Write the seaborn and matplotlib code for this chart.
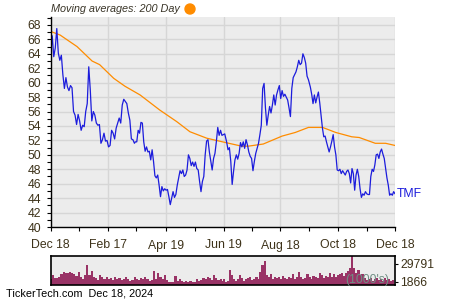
import numpy as np
import pandas as pd
import matplotlib
matplotlib.use("Agg")
import matplotlib.pyplot as plt
import matplotlib.dates as mdates
from matplotlib.ticker import MultipleLocator, FixedLocator
import seaborn as sns

# ---------------- data ----------------
price_seg1 = [63.9, 66.5, 63.6, 64.8, 67.5, 64.1, 63.1, 63.8, 61.1, 59.2, 60.7, 59.4, 58.9, 59.6, 59.3,
              56.0, 55.5, 54.2, 55.6, 54.7, 53.4, 54.1, 53.9, 56.0, 57.1, 62.2, 59.0, 54.7, 56.0, 55.5,
              54.4, 54.1, 54.2, 51.6, 52.1, 53.0, 51.9, 52.0, 51.1, 51.3, 53.4, 53.0, 52.2, 53.7, 54.4,
              55.1, 54.4, 56.9, 57.7, 57.4, 57.1, 55.8, 54.8, 52.2, 52.1, 51.6]
price_seg2 = [51.8, 51.8, 53.4, 53.0, 54.5, 54.4, 51.8, 50.5, 51.1, 50.4, 50.5, 49.3, 50.7, 49.1, 47.1,
              46.8, 47.2, 45.8, 44.2, 45.6, 45.0, 45.3, 45.1, 45.2, 44.2, 43.1, 44.0, 44.9, 44.1, 44.5,
              45.8, 46.8, 47.8, 47.4, 47.9, 47.0, 47.2, 47.9, 50.0, 49.5, 48.5, 49.0, 48.4, 49.0, 48.1,
              47.9, 46.3, 44.9, 46.3, 47.0, 50.0, 51.9, 52.1, 50.4, 49.1, 47.9, 49.5, 50.2, 51.8, 53.8,
              52.7, 53.4, 52.7, 52.8, 52.9]
price_seg3 = [51.8, 50.7, 51.0, 49.1, 45.9, 47.7, 49.3, 50.0, 49.4, 50.2, 51.7, 51.1, 51.8, 50.9, 52.1,
              51.4, 50.4, 49.8, 49.5, 47.8, 49.1, 50.2, 50.9, 51.6, 52.8, 54.1, 59.2, 59.9, 56.5, 54.1,
              55.5, 56.7, 55.8, 56.9, 58.3, 56.9, 58.3, 59.0, 59.6, 57.8, 58.9, 58.1, 58.4, 58.0, 57.6,
              56.5, 55.3, 59.2, 60.7, 61.1, 61.5, 62.2, 63.1, 62.5, 62.7, 64.0, 63.5, 62.7, 60.9, 60.4]
price_seg4 = [59.4, 58.4, 57.1, 58.3, 57.2, 58.0, 58.7, 57.2, 55.5, 53.7, 52.5, 52.6, 51.8, 51.1, 50.4,
              51.1, 51.9, 52.8, 51.1, 50.0, 47.9, 47.8, 48.0, 47.4, 47.8, 47.5, 47.2, 47.7, 47.9, 47.4,
              46.1, 48.1, 47.4, 45.1, 47.2, 48.0, 47.0, 45.3, 44.1, 44.6, 44.4, 44.9, 44.6, 44.5, 44.5,
              47.0, 48.0, 47.7, 48.6, 50.0, 50.1, 49.5, 50.4, 50.8, 50.1, 49.5, 48.1, 46.8, 45.8, 44.4,
              44.6, 44.4, 44.9, 44.6]
price_seg_spans = [("2023-12-18", "2024-03-16"), ("2024-03-17", "2024-06-20"),
                   ("2024-06-22", "2024-09-17"), ("2024-09-19", "2024-12-18")]

ma_dates = ["2023-12-18", "2023-12-28", "2024-01-15", "2024-01-31", "2024-02-08", "2024-02-23",
            "2024-03-06", "2024-03-22", "2024-04-12", "2024-04-30", "2024-05-14", "2024-06-01",
            "2024-06-21", "2024-07-08", "2024-07-15", "2024-07-31", "2024-08-20", "2024-09-03",
            "2024-09-17", "2024-10-02", "2024-10-16", "2024-11-02", "2024-11-10", "2024-11-27",
            "2024-12-08", "2024-12-18"]
ma_values = [67.1, 66.6, 65.0, 63.0, 62.5, 60.6, 59.5, 58.3, 56.2, 54.6, 53.2, 52.3,
             51.7, 51.2, 51.2, 51.5, 52.6, 53.1, 53.8, 53.8, 53.1, 52.5, 52.4, 51.6,
             51.6, 51.3]

vol_seg1 = [5600, 12440, 7180, 7180, 9810, 14020, 17700, 16120, 15070, 17700, 15070, 14020, 10860,
            17700, 9810, 5600, 12440, 28220, 12440, 19280, 8760, 7180, 4550, 12440, 9810, 5600, 8760,
            5600, 7180, 4550, 8760, 5600, 7180, 4550, 5600, 8760, 5600, 3500, 4550, 8760, 5600, 4550,
            7180, 5600, 9810, 5600, 3500, 4550, 19280, 5600, 15070, 9810, 5600, 12440, 4550, 1920,
            1920, 1920, 10860, 3500, 5600, 3500, 1920, 3500, 1870, 3500, 1920, 1870, 5600, 3500, 4550,
            7180, 5600, 8760, 7180, 4550, 12440, 7180, 4550, 5600, 3500]
vol_seg2 = [5600, 1920, 3500, 20330, 12440, 5600, 3500, 5600, 12440, 7180, 3500, 5600, 7180, 9810,
            4550, 5600, 8760, 5600, 17700, 28220, 35050, 12440, 9810, 14020, 5600, 9810, 7180, 9810,
            5600, 10860, 7180, 5600, 9810, 7180, 14020, 5600, 8760, 17700, 8760, 5600, 7180, 14020,
            9810, 5600, 10860, 8760, 7180, 16120, 12440, 7180, 10860, 8760, 15070, 9810, 14020, 9810,
            12440, 14020, 16120, 10860, 15070, 19280, 22960, 42400, 22960, 16120, 20330, 12440, 14020,
            7180, 4550, 5600, 7180, 3500, 5600, 7180, 4550, 5600, 3500, 7180, 4550, 5600, 3500, 4550]
vol_seg_spans = [("2023-12-18", "2024-06-18"), ("2024-06-19", "2024-12-16")]
vol_labels = [1866, 29791]

x_tick_dates = ["2023-12-18", "2024-02-17", "2024-04-19", "2024-06-19", "2024-08-18",
                "2024-10-18", "2024-12-18"]
x_tick_labels = ["Dec 18", "Feb 17", "Apr 19", "Jun 19", "Aug 18", "Oct 18", "Dec 18"]
x_minor_dates = ["2024-01-17", "2024-03-18", "2024-05-19", "2024-07-19", "2024-09-18", "2024-11-18"]

# ---------------- frames ----------------
segs = [price_seg1, price_seg2, price_seg3, price_seg4]
frames = []
for vals, (s, e) in zip(segs, price_seg_spans):
    frames.append(pd.DataFrame({"date": pd.date_range(s, e, periods=len(vals)), "price": vals}))
price_df = pd.concat(frames, ignore_index=True)
ma_df = pd.DataFrame({"date": pd.to_datetime(ma_dates), "ma": ma_values})
vframes = []
for vals, (s, e) in zip([vol_seg1, vol_seg2], vol_seg_spans):
    vframes.append(pd.DataFrame({"date": pd.date_range(s, e, periods=len(vals)), "vol": vals}))
vol_df = pd.concat(vframes, ignore_index=True)

# ---------------- style ----------------
sns.set_style("ticks")
plt.rcParams["font.family"] = ["Liberation Sans", "DejaVu Sans"]
txt_col = "#3d3219"
bg = "#ececec"
grid_col = "#d6d6d6"

fig = plt.figure(figsize=(4.5, 3.0), dpi=100)
ax = fig.add_axes([50.7 / 450, 1 - 227 / 300, (395 - 50.7) / 450, 210 / 300])
axv = fig.add_axes([50.7 / 450, 1 - 285 / 300, (395 - 50.7) / 450, 29 / 300])

xmin, xmax = pd.Timestamp("2023-12-18"), pd.Timestamp("2024-12-18")

ax.set_facecolor(bg)
sns.lineplot(data=ma_df, x="date", y="ma", ax=ax, color="#ff8c00", lw=0.9)
sns.lineplot(data=price_df, x="date", y="price", ax=ax, color="#1c1cdc", lw=0.9)
ax.set_xlim(xmin, xmax)
ax.set_ylim(40, 69.1)
ax.set_xlabel("")
ax.set_ylabel("")
ax.xaxis.set_major_locator(FixedLocator(mdates.date2num(pd.to_datetime(x_tick_dates))))
ax.set_xticklabels(x_tick_labels)
ax.xaxis.set_minor_locator(FixedLocator(mdates.date2num(pd.to_datetime(x_minor_dates))))
ax.yaxis.set_major_locator(MultipleLocator(2))
ax.yaxis.set_minor_locator(MultipleLocator(1))
ax.grid(True, which="major", color=grid_col, lw=1.0)
ax.set_axisbelow(True)
for s in ["top", "right"]:
    ax.spines[s].set_visible(False)
for s in ["left", "bottom"]:
    ax.spines[s].set_color("black")
    ax.spines[s].set_linewidth(1.0)
ax.tick_params(axis="both", which="major", length=3, width=0.8, colors="black",
               labelcolor=txt_col, labelsize=8.8, pad=4)
ax.tick_params(axis="both", which="minor", length=3, width=0.8, colors="black")
ax.tick_params(axis="x", which="major", pad=6)
ax.text(1.005, price_df["price"].iloc[-1], "TMF", transform=ax.get_yaxis_transform(),
        color="#1c1cdc", fontsize=8.8, va="center", ha="left")

# volume
axv.set_facecolor(bg)
vbot = -3340
axv.bar(vol_df["date"], np.array(vol_df["vol"]) - vbot, bottom=vbot, width=2.3,
        color="#993366", linewidth=0)
axv.set_xlim(xmin, xmax)
axv.set_ylim(vbot, 42400)
axv.set_xticks([])
axv.yaxis.tick_right()
axv.set_yticks(vol_labels)
axv.set_yticklabels([str(v) for v in vol_labels])
axv.tick_params(axis="y", length=2, width=0.8, colors="black", labelcolor=txt_col,
                labelsize=8.8, pad=2)
for s in axv.spines.values():
    s.set_visible(True)
    s.set_color("black")
    s.set_linewidth(1.2)
axv.text(0.92, 0.18, "(1000's)", transform=axv.transAxes, ha="center", va="center",
         fontsize=8.8, color="#6f8f84")

# header / footer
fig.text(50.7 / 450, 1 - 9.5 / 300, "Moving averages: 200 Day", style="italic",
         fontsize=7.8, color="#3a3528", ha="left", va="center")
fig.add_artist(matplotlib.patches.Ellipse((190 / 450, 1 - 9 / 300), 10 / 450, 10 / 300,
                                          transform=fig.transFigure, color="#ff8c00"))
fig.text(6 / 450, 1 - 294 / 300, "TickerTech.com  Dec 18, 2024", fontsize=7.8,
         color="black", ha="left", va="center")

fig.savefig("out.png", dpi=100)
